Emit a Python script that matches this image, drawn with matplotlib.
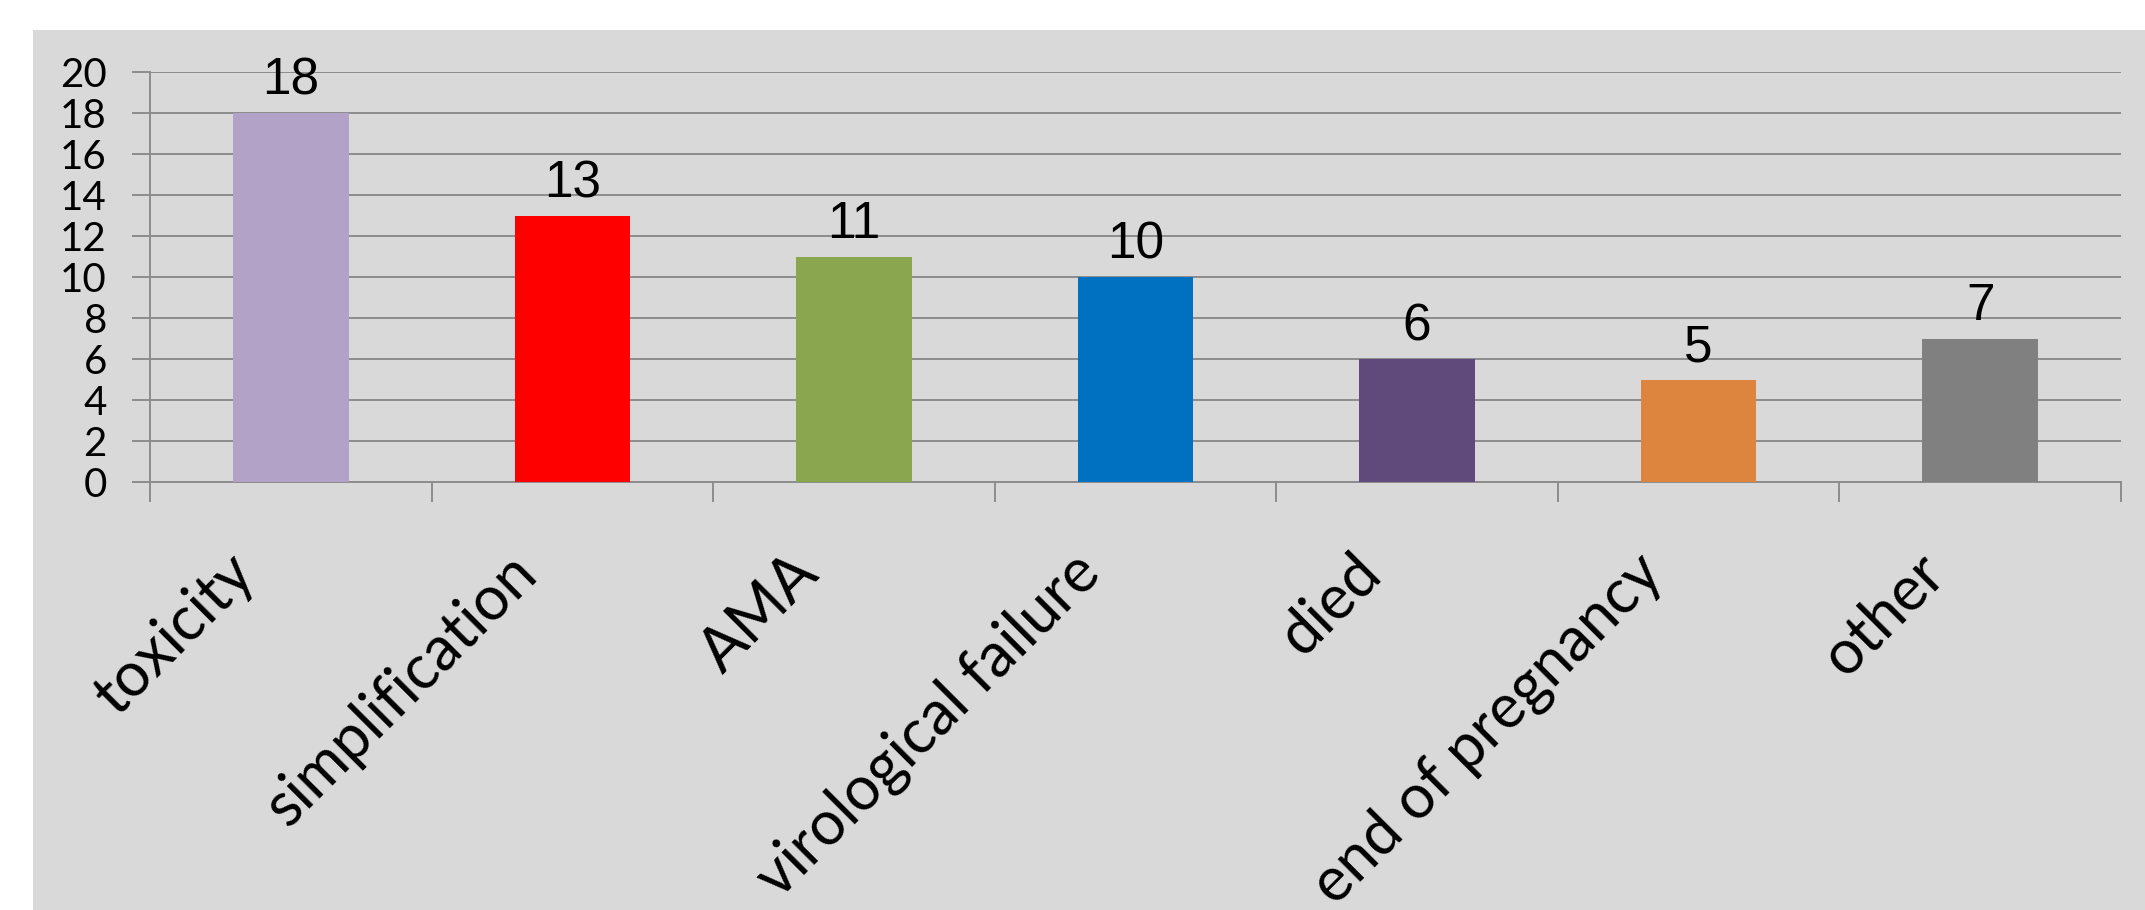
import matplotlib.pyplot as plt
from matplotlib.patches import Rectangle
from matplotlib.transforms import ScaledTranslation

# data
categories = ["toxicity", "simplification", "AMA", "virological failure",
              "died", "end of pregnancy", "other"]
counts = [18, 13, 11, 10, 6, 5, 7]
bar_colors = ["#b3a2c7", "#ff0000", "#8aa64f", "#0070c0",
              "#604a7b", "#dd843f", "#808080"]
yticks = [0, 2, 4, 6, 8, 10, 12, 14, 16, 18, 20]

grid_color = "#8c8c8c"
bg_color = "#d9d9d9"

fig = plt.figure(figsize=(21.45, 9.10), dpi=100)
fig.patch.set_facecolor("white")
# gray chart area behind the axes
fig.add_artist(Rectangle((33 / 2145, 0), 1, 1 - 30 / 910,
                         transform=fig.transFigure, facecolor=bg_color,
                         edgecolor="none", zorder=-5))

ax = fig.add_axes([150 / 2145, 1 - 482 / 910, (2121 - 150) / 2145, (482 - 72) / 910])
ax.set_zorder(1)
ax.set_facecolor("none")

x = list(range(len(categories)))
ax.bar(x, counts, width=0.41, color=bar_colors, zorder=3)

# data labels
for xi, v in zip(x, counts):
    ax.annotate(str(v), (xi, v), xytext=(0, 13), textcoords="offset points",
                ha="center", va="baseline", fontsize=37,
                family="Liberation Sans", color="black", zorder=4)

ax.set_xlim(-0.5, len(categories) - 0.5)
ax.set_ylim(0, 20)
ax.set_yticks(yticks)
ax.set_yticklabels([str(t) for t in yticks], family="Lato", fontsize=29)
ax.grid(axis="y", color=grid_color, linewidth=1.4, zorder=1)
ax.set_axisbelow(True)

for s in ["top", "right"]:
    ax.spines[s].set_visible(False)
for s in ["left", "bottom"]:
    ax.spines[s].set_color(grid_color)
    ax.spines[s].set_linewidth(1.4)

ax.tick_params(axis="y", length=13, width=1.4, color=grid_color, pad=18)

# category labels between boundary ticks
ax.set_xticks(x)
ax.set_xticklabels(categories, family="Lato", fontsize=44, rotation=45,
                   ha="right", va="center", rotation_mode="anchor")
ax.tick_params(axis="x", which="major", length=0, pad=59)
ax.set_xticks([i - 0.5 for i in range(len(categories) + 1)], minor=True)
ax.tick_params(axis="x", which="minor", length=14.5, width=1.4, color=grid_color)
shift = ScaledTranslation(-0.45, 0, fig.dpi_scale_trans)
for lbl in ax.get_xticklabels():
    lbl.set_transform(lbl.get_transform() + shift)

fig.savefig("out.png", dpi=100)
